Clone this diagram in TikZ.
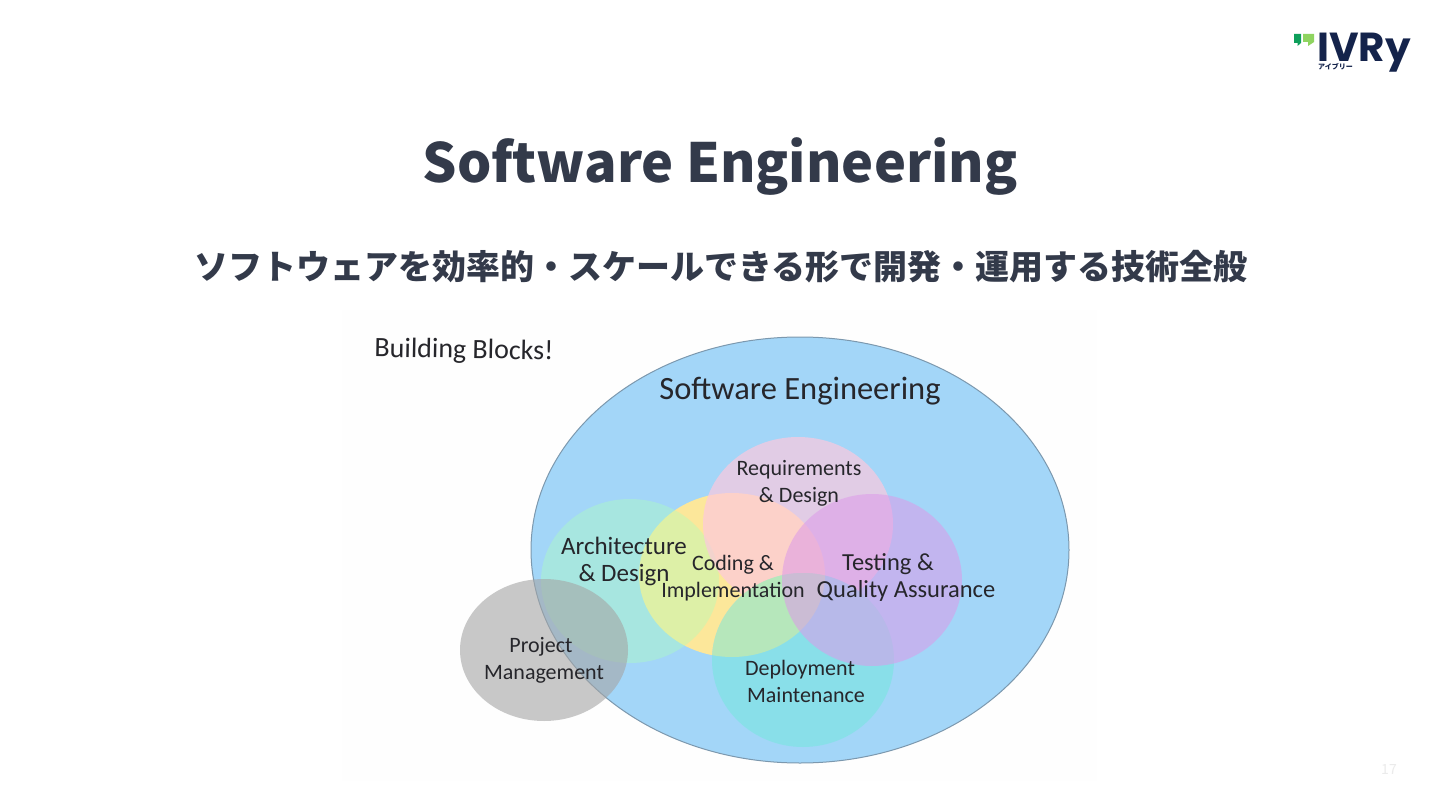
\documentclass[tikz,border=0pt]{standalone}
\usepackage{fontspec}
\setmainfont{Noto Sans CJK JP}
\newfontfamily\handfont{Carlito}
\newfontfamily\logofont{Poppins}
\usepackage{xcolor}
\usetikzlibrary{positioning}
\definecolor{inkslate}{HTML}{333A4A}
\definecolor{inknavy}{HTML}{14234B}
\definecolor{inkhand}{HTML}{26262B}
\definecolor{skyblob}{RGB}{163,214,248}
\definecolor{rimblob}{HTML}{7C98AE}
\definecolor{codeblob}{RGB}{252,231,154}
\definecolor{archblob}{RGB}{175,254,188}
\definecolor{reqblob}{RGB}{252,200,222}
\definecolor{deployblob}{RGB}{113,232,220}
\definecolor{testblob}{RGB}{221,154,233}
\definecolor{projblob}{RGB}{165,165,165}
\definecolor{flagdark}{HTML}{0E9F5B}
\definecolor{flaglight}{HTML}{8FD460}
\tikzset{
  handtext/.style={font=\handfont\fontsize{#1}{27}\selectfont,text=inkhand,align=center,inner sep=0pt},
  handtext/.default=22,
  blob/.style={fill=#1},
}

\begin{document}
\begin{tikzpicture}[x=1pt,y=-1pt]
\useasboundingbox (0,0) rectangle (1440,810);
\fill[white] (0,0) rectangle (1440,810);

% picture panel
\fill[white!99.5!black] (342,310) rectangle (1097,781);

% circles
\fill[blob=skyblob] (800,550) ellipse [x radius=269,y radius=213];
\draw[rimblob,line width=1pt] (800,550) ellipse [x radius=269,y radius=213];
\fill[blob=codeblob] (732,575) ellipse [x radius=93,y radius=82];
\fill[blob=archblob,fill opacity=.4] (630,581) ellipse [x radius=89,y radius=82];
\fill[blob=reqblob,fill opacity=.7] (798,524) ellipse [x radius=95,y radius=87];
\begin{scope}
  \clip (803,660) ellipse [x radius=91,y radius=87];
  \fill[blob=skyblob] (700,560) rectangle (900,750);
  \fill[blob=codeblob] (732,575) ellipse [x radius=93,y radius=82];
\end{scope}
\fill[blob=deployblob,fill opacity=.5] (803,660) ellipse [x radius=91,y radius=87];
\fill[blob=testblob,fill opacity=.55] (872,580) ellipse [x radius=90,y radius=86];
\fill[blob=projblob,fill opacity=.6] (544,650) ellipse [x radius=84,y radius=71];

% heading
\node[font=\bfseries\fontsize{54}{60}\selectfont,text=inkslate,inner sep=0pt,anchor=base] (title) at (720,183) {Software Engineering};
\node[font=\bfseries\fontsize{34}{40}\selectfont,text=inkslate,inner sep=0pt] (subtitle) at (721,267) {ソフトウェアを効率的・スケールできる形で開発・運用する技術全般};

% labels
\node[handtext=28,rotate=-1] (blocks) at (464,351) {Building Blocks!};
\node[handtext=32.5] (swe) at (800,391) {Software Engineering};
\node[handtext] (req) at (799,483) {Requirements\\\& Design};
\node[handtext=25] (arch) at (624,561) {Architecture\\\& Design};
\node[handtext] (code) at (733,578) {Coding \&\\Implementation};
\node[handtext=24.5] (test) at (906,578) {Testing \&\hspace*{36pt}\\Quality Assurance};
\node[handtext] (deploy) at (806,681) {Deployment\hspace*{12pt}\\Maintenance};
\node[handtext] (proj) at (544,660) {Project\hspace*{6pt}\\Management};

% logo
\fill[flagdark] (1294,34) -- (1301,34) -- (1301,43) -- (1297.5,46) -- (1297.5,43) -- (1294,43) -- cycle;
\fill[flaglight] (1303,34) -- (1314,34) -- (1314,42) -- (1308,46) -- (1308,42) -- (1303,42) -- cycle;
\node[font=\logofont\bfseries\fontsize{40.5}{42}\selectfont,text=inknavy,inner sep=0pt,text depth=0pt,anchor=base west] (logo) at (1317,62) {IVRy};
\node[font=\bfseries\fontsize{7}{8}\selectfont,text=inknavy,inner sep=0pt,text height=5pt,text depth=0pt,anchor=base west] (kana) at (1318,69.5) {アイブリー};

% page number
\node[font=\fontsize{14}{16}\selectfont,text=black!8,inner sep=0pt] (page) at (1389,770) {17};
\end{tikzpicture}
\end{document}
